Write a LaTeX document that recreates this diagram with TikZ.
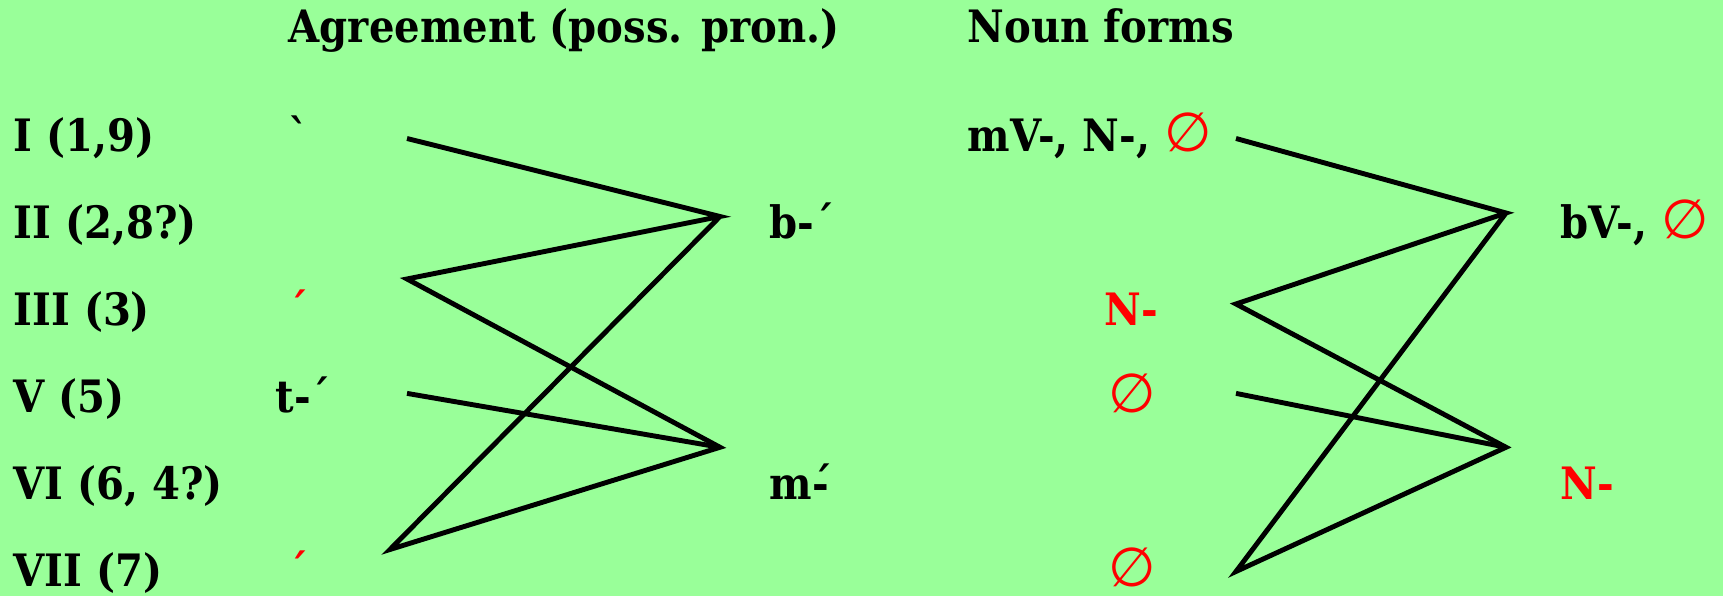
\documentclass[tikz,border=0pt]{standalone}
\usepackage{fontspec}
\setmainfont{DejaVu Serif Condensed}
\newfontfamily\rawserif{DejaVu Serif Condensed}
\newfontfamily\symfont{DejaVu Sans}
\usetikzlibrary{positioning}
\definecolor{lawn}{HTML}{99FF99}
\definecolor{hot}{HTML}{FF0000}
\tikzset{
  lbl/.style ={anchor=base west, inner sep=0pt, font=\fontsize{12.7}{15}\selectfont\bfseries},
  hilbl/.style={lbl, text=hot},
  link/.style={line width=1.4pt, black},
}
\newcommand{\nul}{\textcolor{hot}{\symfont\mdseries\fontsize{15.5}{15}\selectfont ∅}}

\begin{document}
\begin{tikzpicture}
    \fill[lawn] (0,0) rectangle (17.23,-5.96);
    \useasboundingbox (0,0) rectangle (17.23,-5.96);
    % headers
    \node[lbl] (hAgr)  at (2.88,-0.43) {Agreement (poss. pron.)};
    \node[lbl] (hNoun) at (9.67,-0.43) {Noun forms};
    % classes
    \node[lbl] (c1) at (0.13,-1.52) {I (1,9)};
    \node[lbl] (c2) at (0.13,-2.39) {II (2,8?)};
    \node[lbl] (c3) at (0.13,-3.26) {III (3)};
    \node[lbl] (c5) at (0.13,-4.13) {V (5)};
    \node[lbl] (c6) at (0.13,-5.00) {VI (6, 4?)};
    \node[lbl] (c7) at (0.13,-5.87) {VII (7)};
    % agreement prefixes
    \node[lbl]   (a1) at (2.88,-1.52) {\rawserif\bfseries `};
    \node[hilbl] (a3) at (2.88,-3.26) {´};
    \node[lbl]   (a5) at (2.75,-4.13) {t-´};
    \node[hilbl] (a7) at (2.88,-5.87) {´};
    \node[lbl]   (ab) at (7.69,-2.39) {b-´};
    \node[lbl]   (am) at (7.69,-5.00) {m\rlap{´}-};
    % noun prefixes
    \node[lbl]   (n1) at (9.67,-1.52) {mV-, N-, \nul};
    \node[hilbl] (n3) at (11.04,-3.26) {N-};
    \node[lbl]   (n5) at (11.08,-4.13) {\nul};
    \node[lbl]   (n7) at (11.08,-5.87) {\nul};
    \node[lbl]   (nb) at (15.60,-2.39) {bV-, \nul};
    \node[hilbl] (nm) at (15.60,-5.00) {N-};
    % line ends
    \coordinate (p1) at (4.07,-1.385);
    \coordinate (p3) at (4.07,-2.79);
    \coordinate (p5) at (4.07,-3.934);
    \coordinate (p7) at (3.90,-5.495);
    \coordinate (jb) at (7.20,-2.165);
    \coordinate (jm) at (7.20,-4.473);
    \coordinate (q1) at (12.36,-1.385);
    \coordinate (q3) at (12.36,-3.04);
    \coordinate (q5) at (12.36,-3.934);
    \coordinate (q7) at (12.36,-5.715);
    \coordinate (kb) at (15.06,-2.13);
    \coordinate (km) at (15.06,-4.473);
    % mappings
    \draw[link] (p1) -- (jb) -- (p3) -- (jm) -- (p7) -- (jb);
    \draw[link] (p5) -- (jm);
    \draw[link] (q1) -- (kb) -- (q3) -- (km) -- (q7) -- (kb);
    \draw[link] (q5) -- (km);
\end{tikzpicture}
\end{document}
